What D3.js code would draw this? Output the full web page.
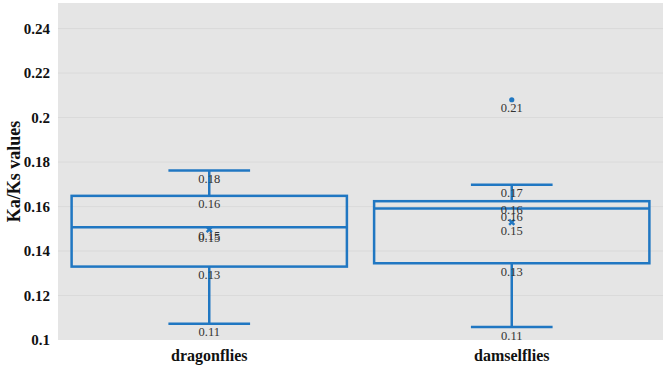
<!DOCTYPE html>
<html>
<head>
<meta charset="utf-8">
<script src="https://cdn.jsdelivr.net/npm/d3@7"></script>
<style>
  body { margin: 0; background: #fff; }
  svg { display: block; }
</style>
</head>
<body>
<svg id="chart" width="666" height="365"></svg>
<script>
// box stats
const categories = ['dragonflies', 'damselflies']
const whiskerLow = [0.1073, 0.1058]
const q1 = [0.133, 0.1345]
const median = [0.1507, 0.1591]
const q3 = [0.1648, 0.1624]
const whiskerHigh = [0.1762, 0.1698]
const means = [0.1497, 0.1529]
const outliers = [[], [0.208]]
const yTicks = [0.1, 0.12, 0.14, 0.16, 0.18, 0.2, 0.22, 0.24]

const W = 666, H = 365
const margin = { top: 3, right: 3, bottom: 25, left: 58 }
const innerW = W - margin.left - margin.right
const innerH = H - margin.top - margin.bottom
const blue = '#2077c2'
const fmt = d3.format('.2f')

const svg = d3.select('#chart')
const g = svg.append('g').attr('transform', `translate(${margin.left},${margin.top})`)

const x = d3.scaleBand().domain(categories).range([0, innerW]).paddingInner(0).paddingOuter(0)
const y = d3.scaleLinear().domain([0.1, 0.2515]).range([innerH, 0])

// 背景和网格
g.append('rect').attr('width', innerW).attr('height', innerH).attr('fill', '#e5e5e5')
g.append('g')
  .selectAll('line')
  .data(yTicks.slice(1))
  .join('line')
  .attr('x1', 0)
  .attr('x2', innerW)
  .attr('y1', d => y(d))
  .attr('y2', d => y(d))
  .attr('stroke', '#dadada')
  .attr('stroke-width', 1)

// y 轴
const yAxis = g.append('g').call(d3.axisLeft(y).tickValues(yTicks).tickSize(0).tickPadding(8).tickFormat(d => String(+d.toFixed(2))))
yAxis.select('.domain').remove()
yAxis.selectAll('text')
  .attr('font-family', '"Liberation Serif", "Times New Roman", serif')
  .attr('font-weight', 'bold')
  .attr('font-size', 15)
  .attr('fill', '#111')

g.append('text')
  .attr('transform', 'rotate(-90)')
  .attr('x', -innerH / 2)
  .attr('y', -margin.left + 20)
  .attr('text-anchor', 'middle')
  .attr('font-family', '"Liberation Serif", "Times New Roman", serif')
  .attr('font-weight', 'bold')
  .attr('font-size', 18)
  .attr('fill', '#111')
  .text('Ka/Ks values')

// x 轴
const xAxis = g.append('g')
  .attr('transform', `translate(0,${innerH})`)
  .call(d3.axisBottom(x).tickSize(0).tickPadding(10))
xAxis.select('.domain').remove()
xAxis.selectAll('text')
  .attr('font-family', '"Liberation Serif", "Times New Roman", serif')
  .attr('font-weight', 'bold')
  .attr('font-size', 16)
  .attr('fill', '#111')

const boxes = categories.map((c, i) => ({
  c, lo: whiskerLow[i], q1: q1[i], med: median[i], q3: q3[i], hi: whiskerHigh[i], mean: means[i], out: outliers[i]
}))

const bw = x.bandwidth() * 0.91
const capW = x.bandwidth() * 0.27
const cx = d => x(d.c) + x.bandwidth() / 2

const bg = g.selectAll('g.box').data(boxes).join('g').attr('class', 'box')

// 须线
bg.append('line')
  .attr('x1', cx).attr('x2', cx)
  .attr('y1', d => y(d.hi)).attr('y2', d => y(d.q3))
  .attr('stroke', blue).attr('stroke-width', 2.5)
bg.append('line')
  .attr('x1', cx).attr('x2', cx)
  .attr('y1', d => y(d.q1)).attr('y2', d => y(d.lo))
  .attr('stroke', blue).attr('stroke-width', 2.5)
for (const k of ['hi', 'lo']) {
  bg.append('line')
    .attr('x1', d => cx(d) - capW / 2).attr('x2', d => cx(d) + capW / 2)
    .attr('y1', d => y(d[k])).attr('y2', d => y(d[k]))
    .attr('stroke', blue).attr('stroke-width', 2.5)
}

// 箱体
bg.append('rect')
  .attr('x', d => cx(d) - bw / 2)
  .attr('width', bw)
  .attr('y', d => y(d.q3))
  .attr('height', d => y(d.q1) - y(d.q3))
  .attr('fill', 'none')
  .attr('stroke', blue).attr('stroke-width', 2.5)
bg.append('line')
  .attr('x1', d => cx(d) - bw / 2).attr('x2', d => cx(d) + bw / 2)
  .attr('y1', d => y(d.med)).attr('y2', d => y(d.med))
  .attr('stroke', blue).attr('stroke-width', 2.5)

// 均值
bg.append('path')
  .attr('transform', d => `translate(${cx(d)},${y(d.mean)}) rotate(45)`)
  .attr('d', d3.symbol(d3.symbolCross, 30))
  .attr('fill', blue)

// 离群点
bg.selectAll('circle')
  .data(d => d.out.map(v => ({ c: d.c, v })))
  .join('circle')
  .attr('cx', cx)
  .attr('cy', d => y(d.v))
  .attr('r', 2.6)
  .attr('fill', blue)

// 数值标签
bg.each(function (d) {
  const vals = [d.hi, d.q3, d.med, d.mean, d.q1, d.lo, ...d.out]
  d3.select(this).selectAll('text.lbl')
    .data(vals)
    .join('text')
    .attr('class', 'lbl')
    .attr('x', cx(d))
    .attr('y', v => y(v) + 12.5)
    .attr('text-anchor', 'middle')
    .attr('font-family', '"Liberation Serif", "Times New Roman", serif')
    .attr('font-size', 12.5)
    .attr('fill', '#333')
    .text(v => fmt(v))
})
</script>
</body>
</html>
